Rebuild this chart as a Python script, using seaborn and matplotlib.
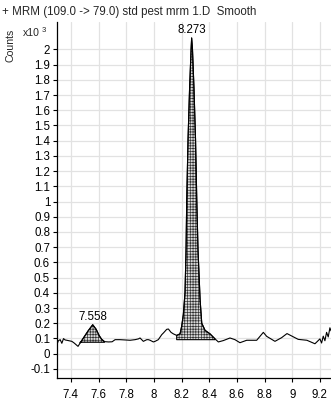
import numpy as np
import pandas as pd
import seaborn as sns
import matplotlib.pyplot as plt

# chromatogram trace (x = acquisition time, y = counts x10^3)
rt = [7.299, 7.310, 7.323, 7.335, 7.347, 7.359, 7.371, 7.407, 7.424, 7.443, 7.452,
      7.467, 7.496, 7.525, 7.558, 7.583, 7.604, 7.622, 7.643,
      7.672, 7.698, 7.720, 7.756, 7.828, 7.864, 7.888, 7.900, 7.924, 7.949, 7.960,
      7.973, 7.996, 8.009, 8.032, 8.057, 8.069, 8.093, 8.105, 8.124, 8.141,
      8.165, 8.189, 8.201, 8.213, 8.225, 8.2325, 8.2375, 8.247, 8.258, 8.269, 8.273,
      8.279, 8.290, 8.301, 8.310, 8.319, 8.334, 8.346, 8.370, 8.406, 8.442, 8.466,
      8.502, 8.550, 8.586, 8.622, 8.671, 8.743, 8.791, 8.815, 8.875, 8.923, 8.962,
      9.043, 9.106, 9.164, 9.200, 9.212, 9.224, 9.236, 9.248, 9.260, 9.272, 9.280]
counts = [0.060, 0.085, 0.092, 0.068, 0.099, 0.090, 0.088, 0.081, 0.070, 0.055, 0.048,
          0.070, 0.110, 0.150, 0.190, 0.160, 0.120, 0.095, 0.079,
          0.077, 0.078, 0.092, 0.092, 0.088, 0.092, 0.097, 0.103, 0.081, 0.092, 0.092,
          0.088, 0.077, 0.081, 0.092, 0.125, 0.136, 0.160, 0.162, 0.140, 0.130,
          0.120, 0.130, 0.180, 0.257, 0.400, 0.680, 1.010, 1.410, 1.740, 2.000, 2.075,
          2.000, 1.740, 1.410, 1.010, 0.680, 0.355, 0.200, 0.153, 0.130, 0.097, 0.077,
          0.086, 0.103, 0.092, 0.072, 0.088, 0.088, 0.140, 0.114, 0.081, 0.105, 0.132,
          0.094, 0.088, 0.065, 0.097, 0.070, 0.115, 0.085, 0.140, 0.110, 0.170, 0.150]

# integrated peaks: apex label, start, end, baseline
peak_labels = ["7.558", "8.273"]
peak_apex = [7.558, 8.273]
peak_height = [0.190, 2.075]
peak_start = [7.467, 8.165]
peak_end = [7.643, 8.442]
peak_base = [0.075, 0.092]

x_ticks = [7.4, 7.6, 7.8, 8.0, 8.2, 8.4, 8.6, 8.8, 9.0, 9.2]
y_ticks = [round(-0.1 + 0.1 * i, 1) for i in range(22)]

title = "+ MRM (109.0 -> 79.0) std pest mrm 1.D  Smooth"

sns.set_theme(style="whitegrid")
plt.rcParams["font.family"] = ["Liberation Sans", "DejaVu Sans"]
plt.rcParams["axes.unicode_minus"] = False

df = pd.DataFrame({"rt": rt, "counts": counts})

fig = plt.figure(figsize=(3.31, 4.01), dpi=100)
ax = fig.add_axes([57 / 331, 1 - 378 / 401, 1 - 57 / 331, (378 - 22) / 401])

sns.lineplot(data=df, x="rt", y="counts", ax=ax, color="black", linewidth=0.8,
             estimator=None, sort=False, zorder=3)

x_arr = np.array(rt)
y_arr = np.array(counts)
plt.rcParams["hatch.linewidth"] = 0.5
for i in range(len(peak_labels)):
    m = (x_arr >= peak_start[i] - 1e-9) & (x_arr <= peak_end[i] + 1e-9)
    ax.fill_between(x_arr[m], peak_base[i], y_arr[m], facecolor="#d8d8d8",
                    edgecolor="#333333", hatch="++++++", linewidth=0, zorder=2)
    ax.fill_between(x_arr[m], peak_base[i], y_arr[m], facecolor="none",
                    edgecolor="black", linewidth=0.8, zorder=2)
    ax.text(peak_apex[i], peak_height[i] + 0.012, peak_labels[i], ha="center",
            va="bottom", fontsize=8.3, color="black", zorder=4)

ax.set_xlim(7.30, 9.28)
ax.set_ylim(-0.16, 2.18)
ax.set_xticks(x_ticks)
ax.set_xticklabels([f"{v:g}" for v in x_ticks])
ax.set_yticks(y_ticks)
ax.set_yticklabels([f"{v:g}" for v in y_ticks])
ax.set_xlabel("")
ax.set_ylabel("")

ax.grid(True, color="#e2e2e2", linewidth=0.9)
ax.set_facecolor("white")
for side in ["top", "right"]:
    ax.spines[side].set_visible(False)
for side in ["left", "bottom"]:
    ax.spines[side].set_color("black")
    ax.spines[side].set_linewidth(0.9)
ax.tick_params(axis="both", which="major", length=3, width=0.8, color="black",
               labelsize=8.3, labelcolor="black", pad=2, left=True, bottom=True)
ax.tick_params(axis="x", pad=5)

fig.text(2 / 331, 1 - 12 / 401, title, ha="left", va="center", fontsize=8.3)
fig.text(11 / 331, 1 - 45 / 401, "Counts", rotation=90, ha="center", va="center", fontsize=7.6)
fig.text(23 / 331, 1 - 33 / 401, "x10", ha="left", va="center", fontsize=7.6)
fig.text(42 / 331, 1 - 30 / 401, "3", ha="left", va="center", fontsize=5.5)

fig.savefig("out.png", dpi=100)
